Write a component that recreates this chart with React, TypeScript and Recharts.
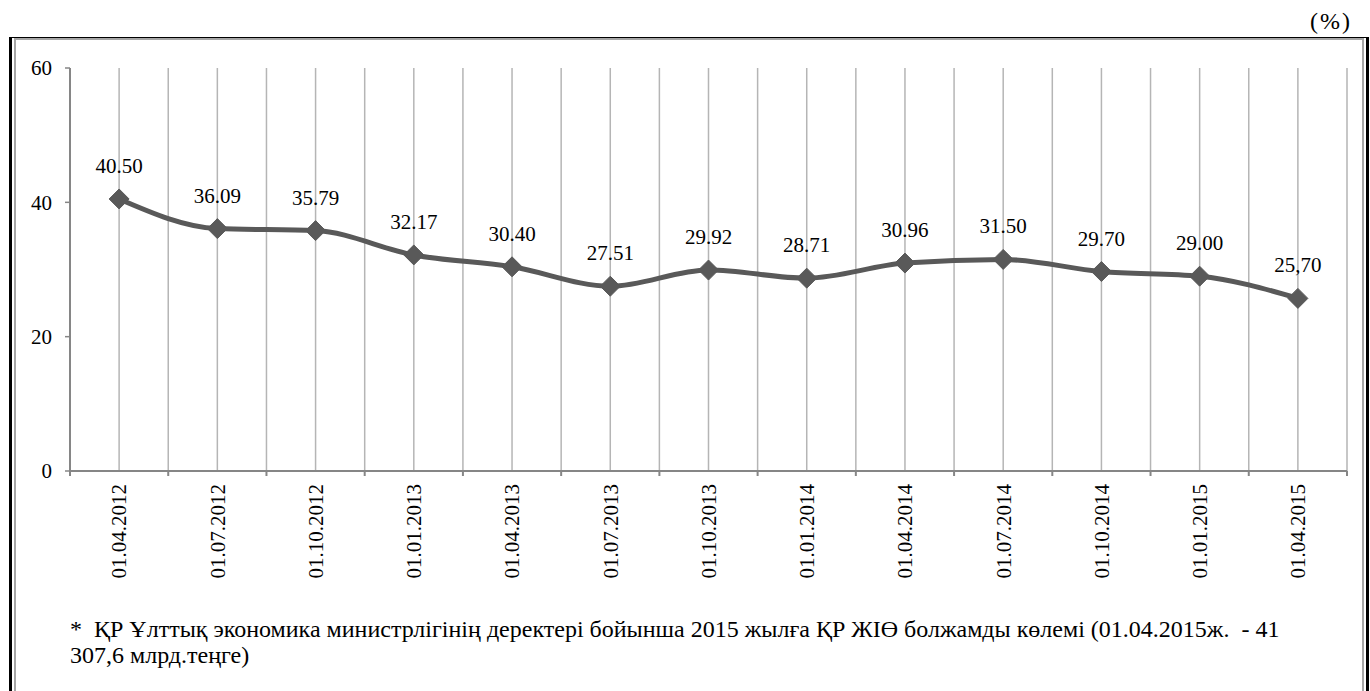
import React from "react";
import { LineChart, Line, XAxis, YAxis, CartesianGrid, LabelList } from "recharts";

const categories = [
  "01.04.2012", "01.07.2012", "01.10.2012", "01.01.2013", "01.04.2013", "01.07.2013",
  "01.10.2013", "01.01.2014", "01.04.2014", "01.07.2014", "01.10.2014", "01.01.2015", "01.04.2015",
];
const values = [40.5, 36.09, 35.79, 32.17, 30.4, 27.51, 29.92, 28.71, 30.96, 31.5, 29.7, 29.0, 25.7];
const valueLabels = [
  "40.50", "36.09", "35.79", "32.17", "30.40", "27.51", "29.92", "28.71", "30.96", "31.50", "29.70", "29.00", "25,70",
];
const yTicks = [0, 20, 40, 60];
const unitLabel = "(%)";
const footnoteLine1 =
  "*  ҚР Ұлттық экономика министрлігінің деректері бойынша 2015 жылға ҚР ЖІӨ болжамды көлемі (01.04.2015ж.  - 41";
const footnoteLine2 = "307,6 млрд.теңге)";

const FONT = "'Liberation Serif', 'Times New Roman', serif";

const rows = categories.map((c, i) => ({ i, v: values[i], label: valueLabels[i], name: c }));
const xTicks: number[] = [];
categories.forEach((_, i) => {
  xTicks.push(i - 0.5);
  xTicks.push(i);
});
xTicks.push(categories.length - 0.5);

const XTick = (props: any) => {
  const { x, y, payload } = props;
  const v = payload.value as number;
  if (Math.abs(v - Math.round(v)) > 0.01) {
    return <line x1={x} x2={x} y1={y} y2={y + 5} stroke="#868686" strokeWidth={2} />;
  }
  const ty = y + 13;
  return (
    <text
      x={x}
      y={ty}
      dy="0.35em"
      textAnchor="end"
      transform={`rotate(-90, ${x}, ${ty})`}
      fontFamily={FONT}
      fontSize={21}
      fill="#000"
    >
      {categories[Math.round(v)]}
    </text>
  );
};

const Diamond = (props: any) => {
  const { cx, cy } = props;
  if (cx == null || cy == null) return null;
  const r = 10;
  return (
    <polygon
      points={`${cx},${cy - r} ${cx + r},${cy} ${cx},${cy + r} ${cx - r},${cy}`}
      fill="#595959"
      stroke="#595959"
    />
  );
};

export default function App() {
  return (
    <div style={{ position: "absolute", left: 0, top: 0, width: 1370, height: 691, overflow: "hidden", background: "#fff" }}>
      <div
        style={{
          position: "absolute",
          left: 1310,
          top: 9,
          fontFamily: FONT,
          fontSize: 24,
          lineHeight: "24px",
          letterSpacing: 2,
          color: "#000",
          whiteSpace: "pre",
        }}
      >
        {unitLabel}
      </div>
      <div
        style={{
          position: "absolute",
          left: 9,
          top: 37,
          width: 1360,
          height: 700,
          borderLeft: "3px solid #000",
          borderTop: "1px solid #000",
          borderRight: "3px solid #000",
          boxSizing: "border-box",
        }}
      >
        <div
          style={{
            position: "absolute",
            left: 2,
            top: 0,
            right: 2,
            bottom: 0,
            borderLeft: "2px solid #a6a6a6",
            borderTop: "2px solid #a6a6a6",
            borderRight: "2px solid #a6a6a6",
          }}
        />
      </div>
      <div style={{ position: "absolute", left: 0, top: 0 }}>
        <LineChart
          width={1370}
          height={600}
          data={rows}
          margin={{ top: 68, right: 23, left: 10, bottom: 0 }}
        >
          <CartesianGrid vertical horizontal={false} stroke="#b5b5b5" strokeWidth={1.5} />
          <XAxis
            dataKey="i"
            type="number"
            domain={[-0.5, categories.length - 0.5]}
            ticks={xTicks}
            interval={0}
            allowDecimals
            height={129}
            tick={<XTick />}
            tickLine={false}
            tickSize={0}
            tickMargin={0}
            axisLine={{ stroke: "#868686", strokeWidth: 2 }}
          />
          <YAxis
            type="number"
            domain={[0, 60]}
            ticks={yTicks}
            width={60}
            tickSize={5}
            tickMargin={13}
            tickLine={{ stroke: "#868686", strokeWidth: 1.5 }}
            axisLine={{ stroke: "#868686", strokeWidth: 2 }}
            tick={{ fontFamily: FONT, fontSize: 21, fill: "#000" }}
          />
          <Line
            type="monotone"
            dataKey="v"
            stroke="#595959"
            strokeWidth={5}
            dot={<Diamond />}
            activeDot={false}
            isAnimationActive={false}
          >
            <LabelList
              dataKey="label"
              position="top"
              offset={26}
              style={{ fontFamily: FONT, fontSize: 21, fill: "#000" }}
            />
          </Line>
        </LineChart>
      </div>
      <div
        style={{
          position: "absolute",
          left: 70,
          top: 616,
          fontFamily: FONT,
          fontSize: 24,
          lineHeight: "26px",
          color: "#000",
          whiteSpace: "pre",
        }}
      >
        <div>{footnoteLine1}</div>
        <div>{footnoteLine2}</div>
      </div>
    </div>
  );
}
